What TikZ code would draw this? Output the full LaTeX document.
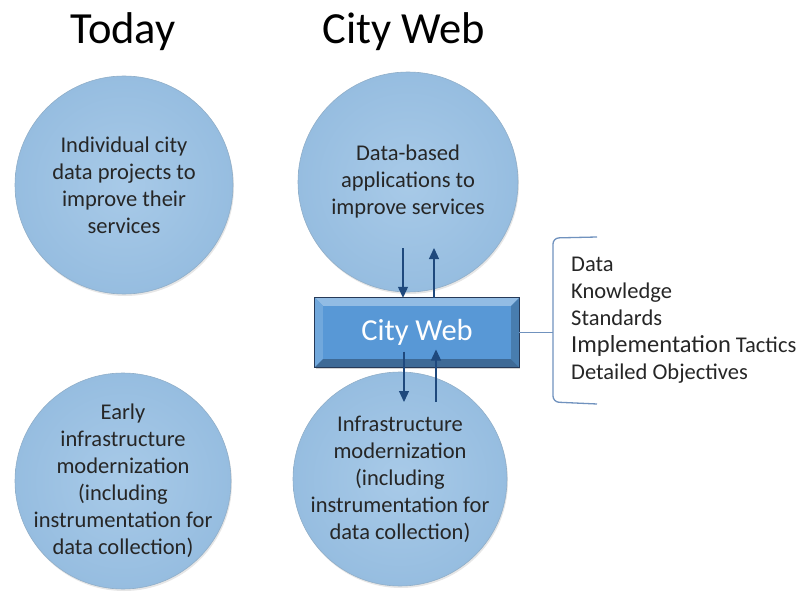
\documentclass[tikz,border=0pt]{standalone}
\usepackage{fontspec}
\setmainfont{Carlito}
\usetikzlibrary{arrows.meta,shadows}
\definecolor{ballin}{RGB}{168,202,232}
\definecolor{ballout}{RGB}{150,189,224}
\definecolor{boxblue}{RGB}{88,152,214}
\definecolor{boxedge}{RGB}{38,58,88}
\definecolor{arrowblue}{RGB}{31,73,125}
\definecolor{bracecol}{RGB}{112,146,190}
\tikzset{
    ball/.style={circle,inner sep=0pt,shading=radial,inner color=ballin,outer color=ballout,
        draw=ballout!75!gray,line width=0.6pt,
        drop shadow={opacity=0.2,shadow xshift=1pt,shadow yshift=-2pt}},
    balltxt/.style={align=center,font=\fontsize{22.5}{27}\selectfont,text=black!85},
    title/.style={font=\fontsize{44.5}{50}\selectfont,anchor=base},
    citybox/.style={rectangle,minimum width=204pt,minimum height=69pt,fill=boxblue,
        text=white,font=\fontsize{30.5}{34}\selectfont,
        drop shadow={opacity=0.35,shadow xshift=1pt,shadow yshift=-2pt}},
    flow/.style={draw=arrowblue,line width=1.2pt,-{Triangle[length=11pt,width=10pt]}},
    brace/.style={draw=bracecol,line width=1.3pt}
}
\begin{document}
\begin{tikzpicture}[x=1pt,y=-1pt]
        \useasboundingbox (0,0) rectangle (803,599);
        %\draw[very thin,color=gray] (0,0) grid[step=50] (803,599);
        \node[title] (today) at (123,44) {Today};
        \node[title] (web) at (404,44) {City Web};
        \node[ball,minimum size=218pt,label={[balltxt]center:Individual city\\data projects to\\improve their\\services}] (todaysvc) at (124,185) {};
        \node[ball,minimum size=220pt,label={[balltxt]center:Data-based\\applications to\\improve services}] (websvc) at (408,182) {};
        \node[ball,minimum size=216pt,label={[balltxt]center:Early\\infrastructure\\modernization\\(including\\instrumentation for\\data collection)}] (todayinf) at (123,481) {};
        \node[ball,minimum size=214pt,label={[balltxt]center:Infrastructure\\modernization\\(including\\instrumentation for\\data collection)}] (webinf) at (400,479) {};
        \node[citybox] (cw) at (417,332.5) {City Web};
        % bevel
        \fill[boxblue!65!white] (cw.north west) -- (cw.north east) -- ([shift={(-8,8)}]cw.north east) -- ([shift={(8,8)}]cw.north west) -- cycle;
        \fill[boxblue!85!white] (cw.north west) -- ([shift={(8,8)}]cw.north west) -- ([shift={(8,-8)}]cw.south west) -- (cw.south west) -- cycle;
        \fill[boxblue!70!black] (cw.south west) -- (cw.south east) -- ([shift={(-8,-8)}]cw.south east) -- ([shift={(8,-8)}]cw.south west) -- cycle;
        \fill[boxblue!82!black] (cw.north east) -- (cw.south east) -- ([shift={(-8,-8)}]cw.south east) -- ([shift={(-8,8)}]cw.north east) -- cycle;
        \draw[boxedge,line width=1pt] (cw.north west) rectangle (cw.south east);
        \coordinate (up1) at (403,248);
        \coordinate (up2) at (434,248);
        \coordinate (dn1) at (404,402);
        \coordinate (dn2) at (436,402);
        \draw[flow] (up1) -- (up1 |- cw.north);
        \draw[flow] (up2 |- cw.north) -- (up2);
        \draw[flow] (dn1 |- cw.center) ++(0,19) -- (dn1);
        \draw[flow] (dn2) -- ([yshift=-17pt]dn2 |- cw.center);
        \coordinate (brk) at (553,332);
        \draw[brace] (cw.east) -- (cw.east -| brk);
        \draw[brace,rounded corners=6pt] (597,237) -- (553,238) -- (553,402) -- (597,404);
        \node[anchor=west,inner sep=0pt,align=left,font=\fontsize{22.5}{27}\selectfont,text=black!85] (list) at (571,320)
            {Data\\Knowledge\\Standards\\{\fontsize{24.5}{27}\selectfont Implementation} Tactics\\Detailed Objectives};
\end{tikzpicture}
\end{document}
